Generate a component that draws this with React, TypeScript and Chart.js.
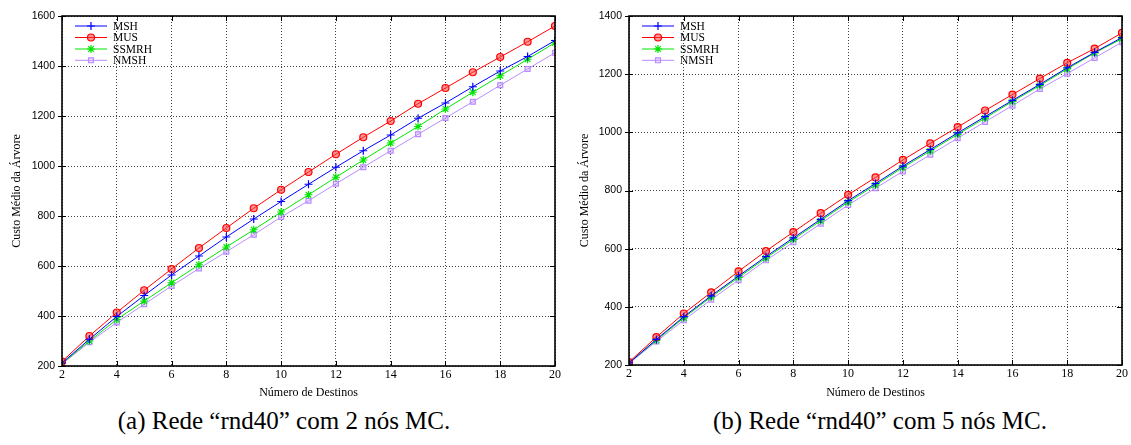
import React, { useEffect, useRef } from "react";
import { Chart, registerables } from "chart.js";
import { drawPoint } from "chart.js/helpers";

Chart.register(...registerables);

// ---------- data ----------
const destinos = [2, 3, 4, 5, 6, 7, 8, 9, 10, 11, 12, 13, 14, 15, 16, 17, 18, 19, 20];
const seriesNames = ["MSH", "MUS", "SSMRH", "NMSH"];

// (a) rnd40, 2 MC nodes
const aMSH = [212, 307, 398, 482, 564, 640, 716, 788, 858, 927, 995, 1061, 1124, 1191, 1252, 1317, 1380, 1438, 1502];
const aMUS = [218, 320, 414, 503, 588, 672, 752, 831, 905, 976, 1047, 1115, 1180, 1249, 1312, 1375, 1436, 1497, 1560];
const aSSMRH = [210, 300, 386, 460, 533, 605, 676, 745, 816, 885, 955, 1024, 1092, 1158, 1228, 1295, 1361, 1427, 1493];
const aNMSH = [208, 295, 374, 447, 520, 590, 657, 725, 796, 861, 929, 995, 1061, 1127, 1192, 1257, 1323, 1388, 1453];

// (b) rnd40, 5 MC nodes
const bMSH = [207, 288, 366, 438, 506, 573, 637, 701, 765, 824, 884, 941, 998, 1054, 1110, 1165, 1222, 1275, 1326];
const bMUS = [210, 296, 377, 450, 522, 592, 657, 722, 785, 845, 905, 962, 1018, 1075, 1130, 1185, 1239, 1288, 1342];
const bSSMRH = [207, 285, 362, 434, 501, 568, 632, 696, 760, 819, 879, 936, 993, 1049, 1106, 1161, 1218, 1273, 1322];
const bNMSH = [205, 281, 354, 425, 492, 560, 622, 686, 750, 808, 866, 923, 980, 1036, 1092, 1149, 1202, 1256, 1310];

const xTicks = { min: 2, max: 20, step: 2 };
const yTicksA = { min: 200, max: 1600, step: 200 };
const yTicksB = { min: 200, max: 1400, step: 200 };

const xTitle = "Número de Destinos";
const yTitle = "Custo Médio da Árvore";
const captionA = "(a) Rede “rnd40” com 2 nós MC.";
const captionB = "(b) Rede “rnd40” com 5 nós MC.";

// ---------- styles ----------
const styles = [
  { color: "#0000ff", fill: "#0000ff", pointStyle: "cross", radius: 4 },
  { color: "#ff0000", fill: "rgba(255,60,60,0.55)", pointStyle: "circle", radius: 3.5 },
  { color: "#00e600", fill: "#00e600", pointStyle: "star", radius: 4 },
  { color: "#b98cff", fill: "rgba(200,160,255,0.35)", pointStyle: "rect", radius: 3.5 },
];

const SERIF = "'Liberation Serif', 'Times New Roman', serif";
const SANS = "'Liberation Sans', Arial, sans-serif";

const gnuplotPlugin = {
  id: "gnuplotFrame",
  afterDatasetsDraw(chart: any) {
    const { ctx, chartArea } = chart;
    const { left, right, top, bottom } = chartArea;
    const xs = chart.scales.x;
    const ys = chart.scales.y;
    ctx.save();
    ctx.strokeStyle = "#000";
    ctx.lineWidth = 1;
    ctx.setLineDash([]);
    ctx.beginPath();
    xs.ticks.forEach((t: any) => {
      const px = Math.round(xs.getPixelForValue(t.value)) + 0.5;
      ctx.moveTo(px, bottom);
      ctx.lineTo(px, bottom - 5);
      ctx.moveTo(px, top);
      ctx.lineTo(px, top + 5);
    });
    ys.ticks.forEach((t: any) => {
      const py = Math.round(ys.getPixelForValue(t.value)) + 0.5;
      ctx.moveTo(left - 4, py);
      ctx.lineTo(left + 4, py);
      ctx.moveTo(right, py);
      ctx.lineTo(right - 5, py);
    });
    ctx.stroke();
    ctx.lineWidth = 1.6;
    ctx.strokeRect(left, top, right - left, bottom - top);

    // legend (gnuplot style, inside top-left)
    const rows = [10, 21.5, 33, 44.3];
    chart.data.datasets.forEach((ds: any, i: number) => {
      const y = top + rows[i];
      const x0 = left + 13;
      const x1 = left + 45;
      ctx.strokeStyle = ds.borderColor;
      ctx.lineWidth = 1;
      ctx.beginPath();
      ctx.moveTo(x0, y);
      ctx.lineTo(x1, y);
      ctx.stroke();
      ctx.fillStyle = ds.pointBackgroundColor;
      ctx.strokeStyle = ds.borderColor;
      ctx.lineWidth = 1.2;
      drawPoint(ctx, { pointStyle: ds.pointStyle, radius: ds.pointRadius, rotation: 0, borderWidth: 1.2 }, (x0 + x1) / 2, y);
      ctx.fillStyle = "#000";
      ctx.font = `11.5px ${SERIF}`;
      ctx.textAlign = "left";
      ctx.textBaseline = "middle";
      ctx.fillText(ds.label, left + 51, y + 0.5);
    });
    ctx.restore();
  },
};

function makeConfig(series: number[][], yT: { min: number; max: number; step: number }, dims: any) {
  return {
    type: "line",
    data: {
      datasets: series.map((vals, i) => ({
        label: seriesNames[i],
        data: destinos.map((d, j) => ({ x: d, y: vals[j] })),
        borderColor: styles[i].color,
        backgroundColor: styles[i].fill,
        pointBackgroundColor: styles[i].fill,
        pointBorderColor: styles[i].color,
        pointStyle: styles[i].pointStyle,
        pointRadius: styles[i].radius,
        pointBorderWidth: 1.2,
        borderWidth: 1,
        tension: 0,
        fill: false,
      })),
    },
    options: {
      responsive: false,
      animation: false,
      devicePixelRatio: 1,
      layout: { padding: { top: dims.top, right: dims.right, left: 0, bottom: 0 } },
      plugins: { legend: { display: false }, tooltip: { enabled: false } },
      scales: {
        x: {
          type: "linear",
          min: xTicks.min,
          max: xTicks.max,
          ticks: {
            stepSize: xTicks.step,
            color: "#000",
            font: { family: SERIF, size: 12 },
            padding: 2,
            maxRotation: 0,
            callback: (v: any) => String(v),
          },
          grid: { color: "rgba(0,0,0,0.75)", lineWidth: 1, drawTicks: false },
          border: { display: false, dash: [1, 2] },
          title: {
            display: true,
            text: xTitle,
            color: "#000",
            font: { family: SERIF, size: 12 },
            padding: { top: 0, bottom: 0 },
          },
          afterFit: (s: any) => {
            s.height = dims.xh;
          },
        },
        y: {
          type: "linear",
          min: yT.min,
          max: yT.max,
          ticks: {
            stepSize: yT.step,
            color: "#000",
            font: { family: SANS, size: 10.5 },
            padding: 7,
            callback: (v: any) => String(v),
          },
          grid: { color: "rgba(0,0,0,0.75)", lineWidth: 1, drawTicks: false },
          border: { display: false, dash: [1, 2] },
          title: {
            display: true,
            text: yTitle,
            color: "#000",
            font: { family: SERIF, size: 12 },
            padding: { top: dims.ytp, bottom: 0 },
          },
          afterFit: (s: any) => {
            s.width = dims.yw;
          },
        },
      },
    },
    plugins: [gnuplotPlugin],
  };
}

function LineChart(props: { series: number[][]; yT: any; dims: any; left: number; width: number }) {
  const ref = useRef<HTMLCanvasElement | null>(null);
  useEffect(() => {
    if (!ref.current) return;
    const chart = new Chart(ref.current, makeConfig(props.series, props.yT, props.dims) as any);
    return () => chart.destroy();
  }, []);
  return (
    <canvas
      ref={ref}
      width={props.width}
      height={400}
      style={{ position: "absolute", left: props.left, top: 0, width: props.width, height: 400 }}
    />
  );
}

const captionStyle = (center: number): React.CSSProperties => ({
  position: "absolute",
  top: 408,
  left: center - 250,
  width: 500,
  textAlign: "center",
  fontFamily: SERIF,
  fontSize: 25,
  lineHeight: "25px",
  color: "#000",
  whiteSpace: "nowrap",
});

export default function App() {
  return (
    <div style={{ position: "absolute", left: 0, top: 0, width: 1131, height: 445, background: "#fff", overflow: "hidden" }}>
      <LineChart
        series={[aMSH, aMUS, aSSMRH, aNMSH]}
        yT={yTicksA}
        dims={{ top: 16, right: 10, xh: 34, yw: 62, ytp: 10 }}
        left={0}
        width={565}
      />
      <LineChart
        series={[bMSH, bMUS, bSSMRH, bNMSH]}
        yT={yTicksB}
        dims={{ top: 16, right: 9, xh: 35, yw: 64, ytp: 13 }}
        left={565}
        width={566}
      />
      <div style={captionStyle(284)}>{captionA}</div>
      <div style={captionStyle(880)}>{captionB}</div>
    </div>
  );
}
